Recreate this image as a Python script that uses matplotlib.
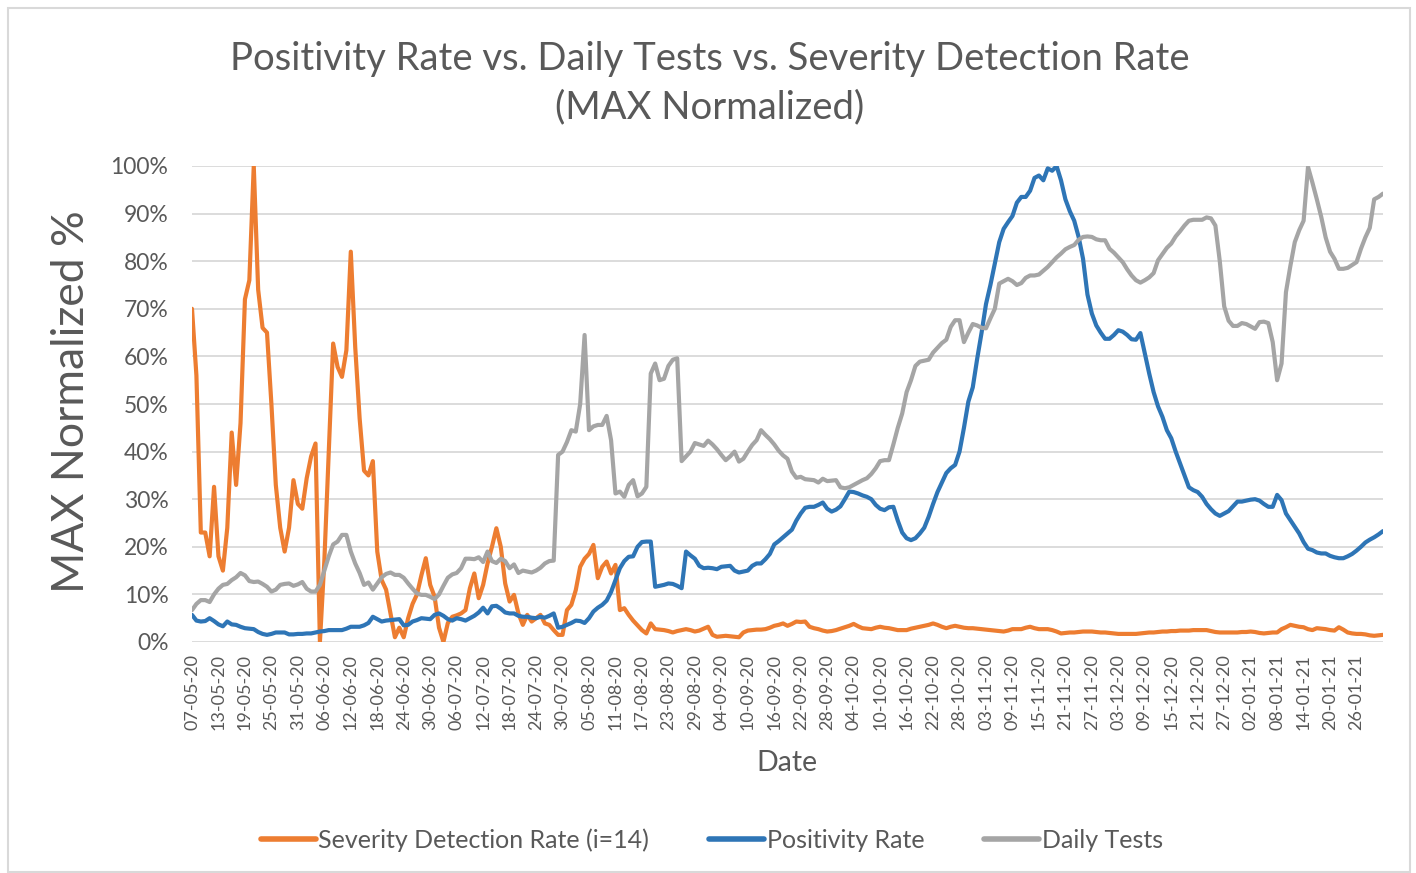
import matplotlib
matplotlib.use("Agg")
import matplotlib.pyplot as plt
import matplotlib.dates as mdates
from matplotlib.patches import Rectangle
from matplotlib.ticker import PercentFormatter, MultipleLocator
import pandas as pd

plt.rcParams['font.family'] = ['Lato', 'DejaVu Sans']

# Daily values, MAX normalized (%), starting 07-05-2020
severity = [
    70, 56, 23, 23, 18, 32.6, 18, 15, 24, 44,
    33, 46, 72, 76, 100, 74, 66, 65, 50, 33,
    24, 19, 24, 34, 29, 28, 34.4, 39, 41.7, 0,
    17, 40, 62.7, 57.8, 55.7, 61.3, 82, 62, 47, 36,
    35, 38, 19, 13, 11, 6, 1, 3, 1, 5,
    8, 10, 14, 17.6, 12, 9.5, 3, 0, 4, 5.3,
    5.6, 6, 6.7, 11.3, 14.4, 9.2, 12, 16.5, 20, 23.9,
    20, 12.3, 8.5, 9.9, 6, 3.6, 5.7, 4.3, 5, 5.7,
    3.9, 3.6, 2.5, 1.5, 1.5, 6.7, 7.8, 10.9, 15.8, 17.5,
    18.5, 20.4, 13.4, 15.8, 16.9, 14.4, 16.2, 6.7, 7.1, 5.7,
    4.5, 3.5, 2.5, 1.8, 3.9, 2.7, 2.6, 2.5, 2.3, 2.0,
    2.3, 2.5, 2.7, 2.5, 2.2, 2.4, 2.8, 3.2, 1.5, 1.1,
    1.2, 1.3, 1.2, 1.1, 1.0, 2.0, 2.4, 2.5, 2.6, 2.6,
    2.7, 3.0, 3.4, 3.6, 3.9, 3.4, 3.8, 4.3, 4.2, 4.3,
    3.2, 2.9, 2.7, 2.4, 2.2, 2.3, 2.5, 2.8, 3.1, 3.4,
    3.8, 3.3, 2.9, 2.8, 2.7, 3.0, 3.2, 3.0, 2.9, 2.7,
    2.5, 2.5, 2.5, 2.8, 3.0, 3.2, 3.4, 3.6, 3.9, 3.6,
    3.2, 2.9, 3.2, 3.4, 3.2, 3.0, 2.9, 2.9, 2.8, 2.7,
    2.6, 2.5, 2.4, 2.3, 2.2, 2.4, 2.7, 2.7, 2.7, 3.0,
    3.2, 2.9, 2.7, 2.7, 2.7, 2.5, 2.2, 1.8, 1.9, 2.0,
    2.0, 2.1, 2.2, 2.2, 2.2, 2.1, 2.0, 2.0, 1.9, 1.8,
    1.7, 1.7, 1.7, 1.7, 1.7, 1.8, 1.9, 2.0, 2.0, 2.1,
    2.2, 2.2, 2.3, 2.3, 2.4, 2.4, 2.4, 2.5, 2.5, 2.5,
    2.5, 2.3, 2.1, 2.0, 2.0, 2.0, 2.0, 2.0, 2.1, 2.1,
    2.2, 2.1, 1.9, 1.8, 1.9, 2.0, 2.0, 2.7, 3.1, 3.6,
    3.4, 3.2, 3.1, 2.7, 2.5, 2.9, 2.8, 2.7, 2.5, 2.4,
    3.1, 2.6, 2.0, 1.8, 1.7, 1.7, 1.6, 1.4, 1.3, 1.4, 1.5,
]

positivity = [
    5.7, 4.5, 4.3, 4.4, 5.0, 4.4, 3.7, 3.3, 4.3, 3.7,
    3.6, 3.2, 2.9, 2.8, 2.7, 2.1, 1.7, 1.5, 1.7, 2.0,
    2.0, 2.0, 1.6, 1.6, 1.7, 1.7, 1.8, 1.8, 2.0, 2.2,
    2.3, 2.5, 2.5, 2.5, 2.5, 2.8, 3.2, 3.2, 3.2, 3.5,
    4.0, 5.3, 4.8, 4.3, 4.5, 4.6, 4.7, 4.8, 3.5, 3.6,
    4.3, 4.6, 5.0, 4.9, 4.8, 5.7, 6.0, 5.5, 4.8, 4.5,
    5.0, 4.8, 4.5, 5.0, 5.5, 6.2, 7.2, 6.0, 7.5, 7.6,
    7.0, 6.2, 6.0, 6.0, 5.5, 5.3, 5.3, 5.1, 5.0, 5.3,
    5.1, 5.5, 6.0, 3.0, 3.2, 3.6, 4.0, 4.5, 4.4, 4.0,
    5.0, 6.4, 7.2, 7.8, 8.7, 10.5, 13.0, 15.5, 17.0, 17.9,
    18.0, 20.0, 21.0, 21.1, 21.1, 11.6, 11.8, 12.0, 12.3, 12.2,
    11.8, 11.3, 19.0, 18.2, 17.5, 16.0, 15.5, 15.6, 15.5, 15.3,
    15.8, 15.9, 16.0, 15.0, 14.6, 14.8, 15.0, 16.0, 16.5, 16.5,
    17.4, 18.5, 20.5, 21.2, 22.0, 22.8, 23.6, 25.5, 27.0, 28.2,
    28.4, 28.4, 28.8, 29.3, 28.0, 27.4, 27.8, 28.5, 30.0, 31.6,
    31.5, 31.2, 30.8, 30.5, 30.0, 28.8, 28.0, 27.7, 28.3, 28.4,
    25.5, 23.0, 21.8, 21.4, 21.8, 22.8, 24.0, 26.3, 29.0, 31.5,
    33.5, 35.5, 36.5, 37.2, 40.0, 45.0, 50.5, 53.5, 59.5, 65.0,
    71.0, 75.0, 79.5, 84.0, 86.8, 88.2, 89.5, 92.3, 93.5, 93.5,
    94.8, 97.5, 98.0, 97.0, 99.5, 99.0, 100, 97.0, 93.0, 90.5,
    88.5, 85.1, 80.5, 73.0, 69.0, 66.5, 65.0, 63.7, 63.7, 64.5,
    65.5, 65.2, 64.5, 63.6, 63.5, 64.9, 60.6, 56.4, 52.5, 49.5,
    47.3, 44.5, 42.8, 40.0, 37.5, 35.0, 32.5, 31.9, 31.5, 30.5,
    29.0, 27.9, 27.0, 26.5, 27.0, 27.5, 28.5, 29.5, 29.5, 29.7,
    29.9, 30.0, 29.7, 29.0, 28.4, 28.4, 30.9, 29.8, 27.0, 25.6,
    24.2, 22.8, 21.0, 19.6, 19.3, 18.8, 18.6, 18.6, 18.1, 17.8,
    17.6, 17.6, 18.0, 18.5, 19.2, 20.0, 20.9, 21.5, 22.0, 22.6, 23.3,
]

daily_tests = [
    6.7, 8.0, 8.8, 8.8, 8.4, 10.0, 11.2, 12.0, 12.2, 13.0,
    13.6, 14.5, 14.0, 12.8, 12.6, 12.7, 12.2, 11.6, 10.6, 11.0,
    12.0, 12.2, 12.3, 11.8, 12.1, 12.6, 11.2, 10.6, 10.6, 12.0,
    15.0, 18.0, 20.5, 21.1, 22.5, 22.5, 19.0, 16.5, 14.5, 12.0,
    12.5, 11.0, 12.3, 13.6, 14.3, 14.6, 14.1, 14.1, 13.5, 12.3,
    11.2, 10.2, 9.9, 9.9, 9.5, 9.0, 10.0, 11.8, 13.5, 14.2,
    14.5, 15.5, 17.5, 17.5, 17.4, 17.8, 16.8, 19.0, 17.0, 16.6,
    17.5, 17.0, 15.5, 16.3, 14.5, 15.0, 14.8, 14.6, 15.0, 15.6,
    16.5, 17.0, 17.1, 39.3, 40.0, 42.0, 44.5, 44.2, 50.0, 64.5,
    44.5, 45.3, 45.6, 45.6, 47.5, 42.4, 31.2, 31.6, 30.5, 33.0,
    34.0, 30.6, 31.2, 32.6, 56.4, 58.5, 55.0, 55.3, 58.0, 59.3,
    59.6, 38.0, 39.0, 40.0, 41.8, 41.5, 41.2, 42.3, 41.5, 40.5,
    39.3, 38.2, 39.0, 40.0, 37.9, 38.5, 40.0, 41.4, 42.4, 44.5,
    43.5, 42.6, 41.5, 40.2, 39.2, 38.5, 35.8, 34.5, 34.7, 34.2,
    34.1, 34.0, 33.5, 34.3, 33.8, 33.9, 34.0, 32.5, 32.3, 32.5,
    33.0, 33.5, 34.0, 34.4, 35.3, 36.5, 38.0, 38.2, 38.2, 41.5,
    45.0, 48.0, 52.5, 55.0, 58.0, 58.9, 59.1, 59.3, 60.8, 61.8,
    62.8, 63.5, 66.2, 67.6, 67.6, 63.0, 65.0, 66.8, 66.5, 66.0,
    65.9, 68.0, 70.0, 75.3, 75.8, 76.3, 75.8, 75.0, 75.4, 76.5,
    77.0, 77.0, 77.2, 78.0, 78.8, 79.8, 80.8, 81.6, 82.5, 83.0,
    83.4, 84.5, 85.1, 85.2, 85.1, 84.6, 84.4, 84.4, 82.6, 81.8,
    80.8, 79.8, 78.3, 77.0, 76.0, 75.5, 76.0, 76.6, 77.5, 80.2,
    81.5, 82.8, 83.7, 85.2, 86.3, 87.5, 88.5, 88.7, 88.7, 88.7,
    89.2, 89.0, 87.5, 80.0, 70.5, 67.5, 66.4, 66.4, 67.0, 66.8,
    66.3, 65.8, 67.2, 67.3, 67.0, 63.0, 55.0, 58.5, 73.5, 79.0,
    84.0, 86.5, 88.5, 99.8, 96.5, 93.0, 89.3, 85.0, 82.0, 80.5,
    78.4, 78.4, 78.6, 79.2, 79.8, 82.6, 85.0, 87.0, 93.0, 93.5, 94.2,
]

dates = pd.date_range("2020-05-07", periods=len(severity), freq="D")
# labelled every 6 days, last label 26-01-21
tick_dates = dates[:len(dates) - 6:6]

W, H = 1416, 873
fig = plt.figure(figsize=(W / 100, H / 100), dpi=100)
ax = fig.add_axes([192 / W, 1 - 642 / H, (1383 - 192) / W, (642 - 166) / H])

text_col = "#595959"
ax.plot(dates, severity, color="#ED7D31", lw=3.0, label="Severity Detection Rate (i=14)",
        solid_joinstyle="round", solid_capstyle="round", zorder=3)
ax.plot(dates, positivity, color="#2E75B6", lw=3.0, label="Positivity Rate",
        solid_joinstyle="round", solid_capstyle="round", zorder=3)
ax.plot(dates, daily_tests, color="#A5A5A5", lw=3.0, label="Daily Tests",
        solid_joinstyle="round", solid_capstyle="round", zorder=3)

ax.set_ylim(0, 100)
ax.set_xlim(dates[0], dates[-1])
ax.yaxis.set_major_locator(MultipleLocator(10))
ax.yaxis.set_major_formatter(PercentFormatter(decimals=0))
ax.grid(axis="y", color="#D9D9D9", lw=1.3)
ax.set_axisbelow(True)
for s in ["top", "right", "left", "bottom"]:
    ax.spines[s].set_visible(False)

ax.set_xticks(tick_dates)
ax.xaxis.set_major_formatter(mdates.DateFormatter("%d-%m-%y"))
ax.tick_params(axis="x", length=0, pad=9, labelsize=13, labelcolor=text_col, rotation=90)
ax.tick_params(axis="y", length=0, pad=17, labelsize=16.5, labelcolor=text_col)

fig.text(710 / W, 1 - 83 / H, "Positivity Rate vs. Daily Tests vs. Severity Detection Rate\n(MAX Normalized)",
         ha="center", va="center", fontsize=27.5, color=text_col, linespacing=1.42)
fig.text(72 / W, 1 - 402 / H, "MAX Normalized %", rotation=90, ha="center", va="center",
         fontsize=32, color=text_col)
fig.text(787 / W, 1 - 763 / H, "Date", ha="center", va="center", fontsize=20.5, color=text_col)

leg = fig.legend(loc="center", bbox_to_anchor=(712 / W, 1 - 840 / H), ncol=3, frameon=False,
                 fontsize=18, handlelength=2.2, handletextpad=0.1, columnspacing=2.4)
for t in leg.get_texts():
    t.set_color(text_col)
for line in leg.get_lines():
    line.set_linewidth(4)

fig.patches.append(Rectangle((8 / W, 1 / H), (1410 - 8) / W, (872 - 8) / H, transform=fig.transFigure,
                             fill=False, edgecolor="#D9D9D9", lw=1.5))

fig.savefig("out.png", dpi=100)
